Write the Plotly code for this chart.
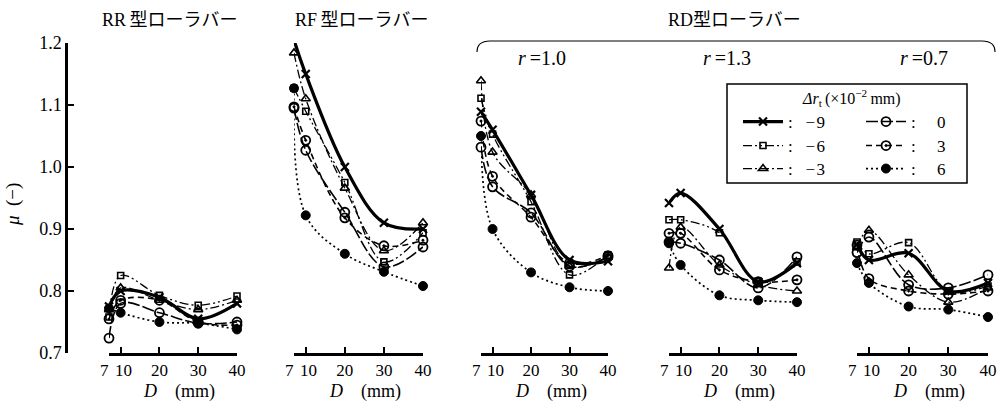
import plotly.graph_objects as go

# ---------------- data ----------------
D = [7, 10, 20, 30, 40]
dr_values = [-9, -6, -3, 0, 3, 6]
legend_names = [":\u00a0\u00a0\u00a0\u2212\u200a9", ":\u00a0\u00a0\u00a0\u2212\u200a6", ":\u00a0\u00a0\u00a0\u2212\u200a3",
                ":\u00a0\u00a0\u00a0\u00a0\u00a00", ":\u00a0\u00a0\u00a0\u00a0\u00a03", ":\u00a0\u00a0\u00a0\u00a0\u00a06"]

# rows follow dr_values: -9, -6, -3, 0, 3, 6
mu_RR = [
    [0.775, 0.800, 0.790, 0.755, 0.780],
    [0.758, 0.825, 0.793, 0.777, 0.792],
    [0.770, 0.805, 0.785, 0.770, 0.785],
    [0.724, 0.780, 0.765, 0.748, 0.750],
    [0.755, 0.785, 0.785, 0.750, 0.745],
    [0.772, 0.765, 0.750, 0.748, 0.738],
]
mu_RF = [
    [1.205, 1.150, 1.000, 0.910, 0.900],
    [1.127, 1.090, 0.975, 0.847, 0.894],
    [1.184, 1.110, 0.966, 0.865, 0.910],
    [1.095, 1.027, 0.927, 0.839, 0.871],
    [1.097, 1.043, 0.918, 0.873, 0.882],
    [1.127, 0.922, 0.860, 0.831, 0.808],
]
mu_RD10 = [
    [1.089, 1.060, 0.955, 0.850, 0.848],
    [1.111, 1.053, 0.944, 0.826, 0.858],
    [1.139, 1.024, 0.955, 0.840, 0.855],
    [1.032, 0.968, 0.926, 0.840, 0.855],
    [1.074, 0.985, 0.919, 0.845, 0.857],
    [1.050, 0.900, 0.830, 0.806, 0.800],
]
mu_RD13 = [
    [0.942, 0.958, 0.900, 0.815, 0.845],
    [0.915, 0.915, 0.894, 0.815, 0.847],
    [0.837, 0.903, 0.842, 0.810, 0.800],
    [0.879, 0.877, 0.850, 0.805, 0.855],
    [0.893, 0.893, 0.834, 0.815, 0.818],
    [0.877, 0.842, 0.793, 0.785, 0.782],
]
mu_RD07 = [
    [0.875, 0.850, 0.861, 0.800, 0.813],
    [0.879, 0.860, 0.878, 0.800, 0.808],
    [0.870, 0.898, 0.826, 0.782, 0.805],
    [0.862, 0.887, 0.810, 0.805, 0.826],
    [0.874, 0.820, 0.800, 0.795, 0.800],
    [0.845, 0.813, 0.775, 0.770, 0.758],
]
panels = [mu_RR, mu_RF, mu_RD10, mu_RD13, mu_RD07]
panel_titles = ["RR\u2009型ローラバー", "RF\u2009型ローラバー"]
rd_title = "RD型ローラバー"
r_labels = ["<i>r</i>\u2009=1.0", "<i>r</i>\u2009=1.3", "<i>r</i>\u2009=0.7"]
legend_title = "<i>Δr</i><sub>t</sub>\u2009(×10<sup>−2</sup>\u2009mm)"
y_ticks = [0.7, 0.8, 0.9, 1.0, 1.1, 1.2]
x_ticks = [7, 10, 20, 30, 40]
x_ticktext = ["7", "10", "20", "30", "40"]

# ---------------- layout helpers ----------------
W, H = 1000, 408
def px(x):
    return x / W
def py(y):
    return (H - y) / H

FONT = "Liberation Serif, Noto Sans CJK JP, serif"
panel_px = [(109, 237), (294, 423), (481, 608), (669, 797), (857, 988)]
# close ticks 7 and 10 get their labels nudged apart (pixel shifts)
tick_shift = {7: -5, 10: 3}

styles = {
    -9: dict(symbol="x-thin-open", size=8, lw=3.2, dash="solid", mlw=2.2),
    -6: dict(symbol="square-open", size=6, lw=1.3, dash="9px,3px,2px,3px,2px,3px", mlw=1.6),
    -3: dict(symbol="triangle-up-open", size=8, lw=1.3, dash="9px,3px,2px,3px", mlw=1.6),
    0: dict(symbol="circle-open", size=9, lw=1.6, dash="12px,3px", mlw=1.8),
    3: dict(symbol="circle-open-dot", size=9, lw=1.6, dash="6px,4px", mlw=1.8),
    6: dict(symbol="circle", size=9, lw=1.7, dash="2px,3px", mlw=1),
}
legend_slot = {-9: (738, 122), -6: (738, 146), -3: (738, 169),
               0: (861, 122), 3: (861, 146), 6: (861, 169)}
legend_ids = {dr: ("legend" if i == 0 else f"legend{i+1}") for i, dr in enumerate(dr_values)}

fig = go.Figure()
for p, data in enumerate(panels):
    xa = "x" if p == 0 else f"x{p+1}"
    for s, dr in enumerate(dr_values):
        st = styles[dr]
        fig.add_trace(go.Scatter(
            x=D, y=data[s], xaxis=xa, yaxis="y",
            mode="lines+markers",
            line=dict(color="black", width=st["lw"], dash=st["dash"], shape="spline", smoothing=1.0),
            marker=dict(symbol=st["symbol"], size=st["size"], color="black",
                        line=dict(color="black", width=st["mlw"])),
            name=legend_names[s], legend=legend_ids[dr],
            showlegend=(p == 0), cliponaxis=False,
        ))

layout = dict(
    width=W, height=H, margin=dict(l=0, r=0, t=0, b=0),
    paper_bgcolor="white", plot_bgcolor="white",
    font=dict(family=FONT, size=17, color="black"),
    yaxis=dict(domain=[py(353), py(43)], range=[0.7, 1.2], anchor="free", position=px(66),
               tickvals=y_ticks, ticktext=[f"{v:.1f}" for v in y_ticks],
               showline=True, linewidth=2.5, linecolor="black", ticks="inside", ticklen=6,
               tickwidth=1.5, tickcolor="black", showgrid=False, zeroline=False,
               tickfont=dict(family=FONT, size=18), automargin=False),
)
for dr in dr_values:
    lx, ly = legend_slot[dr]
    layout[legend_ids[dr]] = dict(x=px(lx), y=py(ly), xanchor="left", yanchor="middle",
                                  bgcolor="rgba(0,0,0,0)", borderwidth=0, itemwidth=40,
                                  font=dict(family=FONT, size=17))
for p, (a, b) in enumerate(panel_px):
    key = "xaxis" if p == 0 else f"xaxis{p+1}"
    layout[key] = dict(domain=[px(a), px(b)], range=[7, 40], anchor="y",
                       tickvals=x_ticks,
                       ticktext=["" if v in tick_shift else t for v, t in zip(x_ticks, x_ticktext)],
                       tickangle=0,
                       showline=True, linewidth=2.5, linecolor="black", ticks="inside",
                       ticklen=6, tickwidth=1.5, tickcolor="black", showgrid=False,
                       zeroline=False, tickfont=dict(family=FONT, size=17), automargin=False)
fig.update_layout(**layout)

def label(text, x, y, size=17, angle=0):
    return dict(text=text, x=px(x), y=py(y), xref="paper", yref="paper", showarrow=False,
                xanchor="center", yanchor="middle", textangle=angle,
                font=dict(family=FONT, size=size))

ann = []
for t, cx in zip(panel_titles, [169, 361]):
    ann.append(label(t, cx, 20, 18))
ann.append(label(rd_title, 734, 20, 18))
for t, cx in zip(r_labels, [542, 727, 924]):
    ann.append(label(t, cx, 58, 20))
for p, (a, b) in enumerate(panel_px):
    ann.append(label("<i>D</i>\u2003(mm)", (a + b) / 2 + 6, 391, 18))
    xr = "x" if p == 0 else f"x{p+1}"
    for v, t in zip(x_ticks, x_ticktext):
        if v in tick_shift:
            ann.append(dict(text=t, x=v, xref=xr, y=py(370), yref="paper", showarrow=False,
                            xanchor="center", yanchor="middle", xshift=tick_shift[v],
                            font=dict(family=FONT, size=17)))
ann.append(label("<i>μ</i>\u2002(−)", 13, 205, 19, -90))
ann.append(label(legend_title, 851, 98, 16))
fig.update_layout(annotations=ann)

# RD bracket
path = (f"M {px(477)},{py(52)} Q {px(477)},{py(41)} {px(490)},{py(41)} "
        f"L {px(982)},{py(41)} Q {px(995)},{py(41)} {px(995)},{py(52)}")
fig.add_shape(type="path", path=path, xref="paper", yref="paper",
              line=dict(color="black", width=1.2))
# legend frame
fig.add_shape(type="rect", x0=px(727), x1=px(967), y0=py(183), y1=py(84),
              xref="paper", yref="paper", line=dict(color="black", width=1.5),
              fillcolor="white", layer="below")

fig.write_html("out.html")
